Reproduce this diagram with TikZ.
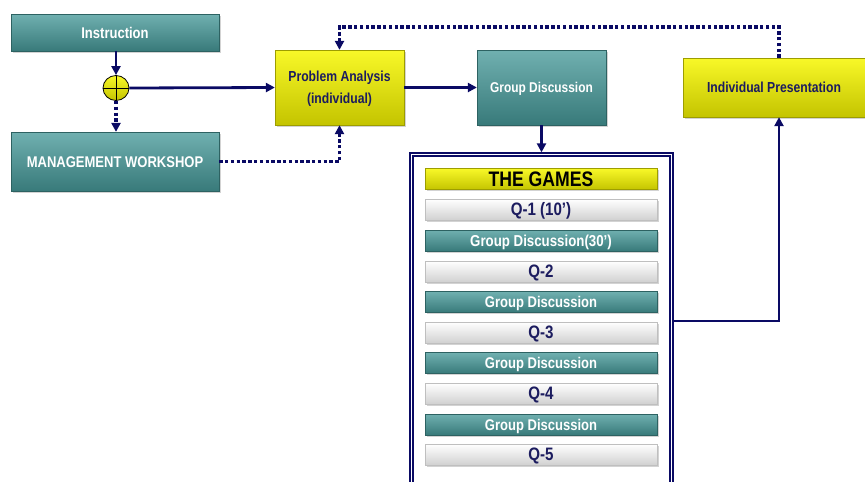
\documentclass[tikz,border=0pt]{standalone}
\usepackage{fontspec}
\setmainfont{Liberation Sans}[FakeStretch=0.84]
\usetikzlibrary{arrows.meta,shadows,calc,shapes.geometric}
\definecolor{tealT}{RGB}{112,176,176}
\definecolor{tealB}{RGB}{56,122,122}
\definecolor{yelT}{RGB}{248,248,40}
\definecolor{yelB}{RGB}{196,196,0}
\definecolor{navy}{RGB}{10,10,100}
\definecolor{navytext}{RGB}{28,28,95}
\begin{document}
\begin{tikzpicture}[x=1pt,y=-1pt,
  box/.style={inner sep=0pt, drop shadow={shadow xshift=1.5pt,shadow yshift=-1.5pt,opacity=0.35}},
  tealbox/.style={box, top color=tealT, bottom color=tealB, draw=tealB!80!black, line width=0.3pt, text=white},
  yelbox/.style={box, top color=yelT, bottom color=yelB, draw=yelB!80!black, line width=0.3pt, text=navytext},
  whitebar/.style={box, top color=white, bottom color=black!18, draw=black!25, line width=0.3pt, text=navytext},
  bar/.style={minimum width=232pt, minimum height=21pt},
  fnt/.style={font=\bfseries\fontsize{#1}{#1}\selectfont, text height=\dimexpr #1pt*72/100\relax, text depth=0pt},
  arr/.style={draw=navy, line width=2.8pt, -{Triangle[length=9pt,width=9pt]}},
  dotarr/.style={draw=navy, line width=3.4pt, dash pattern=on 3.4pt off 2.4pt, -{Triangle[length=9pt,width=9pt]}},
]
\useasboundingbox (0,0) rectangle (865,482);

% main boxes
\node[tealbox, fnt=15.5, minimum width=208pt, minimum height=37pt] (instr) at (115,32.5) {Instruction};
\node[tealbox, fnt=15.5, minimum width=208pt, minimum height=59pt] (mgmt) at (115,161.5) {MANAGEMENT WORKSHOP};
\node[yelbox, minimum width=129pt, minimum height=75pt, align=center, font=\bfseries\fontsize{14.5}{22}\selectfont, text height=32.4pt, text depth=0pt] (pa) at (339.5,87.5) {Problem Analysis\\(individual)};
\node[tealbox, fnt=14.2, minimum width=129pt, minimum height=75pt] (gd) at (541.5,87.5) {Group Discussion};
\node[yelbox, fnt=14.5, minimum width=182pt, minimum height=59pt] (ip) at (774,87.5) {Individual Presentation};

% junction
\node[ellipse, minimum width=26pt, minimum height=25pt, inner sep=0pt, draw=black, line width=0.8pt, top color=yelT, bottom color=yelB] (junc) at (116,88) {};
\draw[black, line width=0.8pt] (junc.north) -- (junc.south) (junc.west) -- (junc.east);

% games frame
\node[draw=navy, line width=1.3pt, minimum width=263pt, minimum height=336pt, inner sep=0pt] (games) at (541.5,321) {};
\node[draw=navy, line width=1.1pt, minimum width=257pt, minimum height=330pt, inner sep=0pt] (gamesin) at (541.5,321) {};

\node[yelbox, bar, fnt=21, text=black] (g0) at (541,179) {THE GAMES};
\node[whitebar, bar, fnt=18] (q1) at (541,209.5) {Q-1 (10’)};
\node[tealbox, bar, fnt=15.8] (d1) at (541,240.5) {Group Discussion(30’)};
\node[whitebar, bar, fnt=18] (q2) at (541,271.5) {Q-2};
\node[tealbox, bar, fnt=15.5] (d2) at (541,302) {Group Discussion};
\node[whitebar, bar, fnt=18] (q3) at (541,332.5) {Q-3};
\node[tealbox, bar, fnt=15.5] (d3) at (541,363) {Group Discussion};
\node[whitebar, bar, fnt=18] (q4) at (541,393.5) {Q-4};
\node[tealbox, bar, fnt=15.5] (d4) at (541,424.5) {Group Discussion};
\node[whitebar, bar, fnt=18] (q5) at (541,454.5) {Q-5};

% connectors
\draw[arr] (instr.south -| junc.north) -- (junc.north);
\draw[dotarr] (junc.south) -- (mgmt.north -| junc.south);
\draw[arr] (junc.east) -- (pa.west);
\draw[arr] (pa.east) -- (gd.west);
\draw[arr] (gd.south) -- (games.north);
\draw[dotarr] (mgmt.east) -| (pa.south);
\coordinate (ipin) at ([xshift=5pt]ip.south);
\coordinate (ipout) at ([xshift=5pt]ip.north);
\coordinate (topline) at (339.5,27);
\draw[arr] (games.east) -| (ipin);
\draw[dotarr] (ipout) |- (topline) -- (pa.north);
\end{tikzpicture}
\end{document}
